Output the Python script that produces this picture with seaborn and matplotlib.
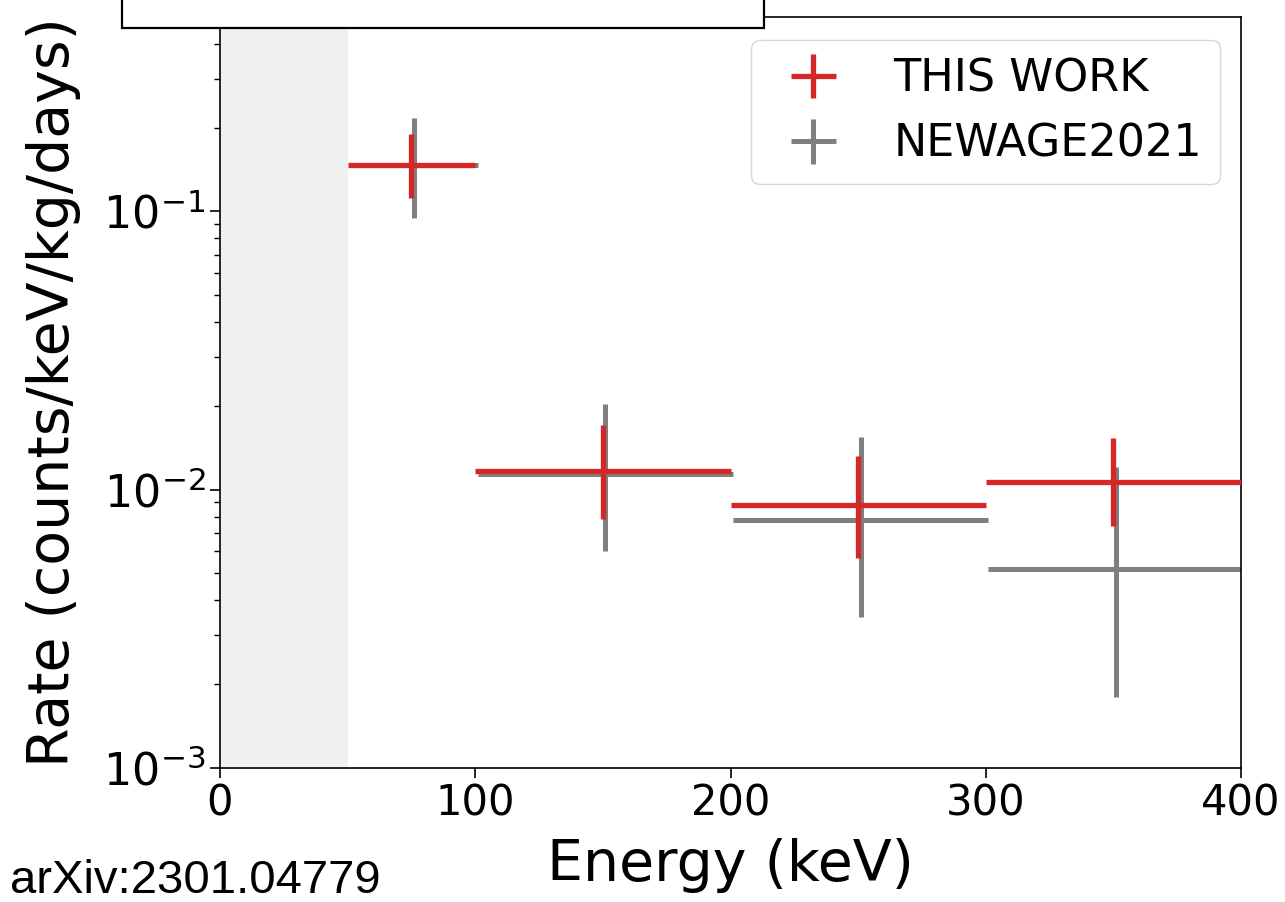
import matplotlib
matplotlib.use("Agg")
import matplotlib.pyplot as plt
from matplotlib.patches import Rectangle
import seaborn as sns
import pandas as pd

# ---- data ----
energy_this = [75, 150, 250, 350]
energy_newage = [76, 151, 251, 351]
energy_halfwidth = [25, 50, 50, 50]
rate_this = [0.147, 0.0117, 0.0088, 0.0107]
err_this_lo = [0.035, 0.00385, 0.0031, 0.0033]
err_this_hi = [0.043, 0.0054, 0.0044, 0.0047]
rate_newage = [0.147, 0.0114, 0.0078, 0.0052]
err_newage_lo = [0.052, 0.0054, 0.0043, 0.0034]
err_newage_hi = [0.070, 0.0090, 0.0077, 0.0069]
labels = ["THIS WORK", "NEWAGE2021"]
xticks = [0, 100, 200, 300, 400]
threshold = [0, 50]

sns.set_style("ticks", rc={"text.color": "black", "axes.labelcolor": "black",
                           "xtick.color": "black", "ytick.color": "black",
                           "axes.edgecolor": "black"})
plt.rcParams["font.family"] = ["DejaVu Sans"]

fig = plt.figure(figsize=(12.85, 9.02), dpi=100)
ax = fig.add_axes([0.1712, 0.1486, 0.7946, 0.8326])

ax.axvspan(threshold[0], threshold[1], color="#f0f0f0", lw=0, zorder=0)

red = "#d62728"
gray = "#7f7f7f"

df_new = pd.DataFrame({"E": energy_newage, "R": rate_newage})
df_this = pd.DataFrame({"E": energy_this, "R": rate_this})

ax.errorbar(energy_newage, rate_newage, xerr=energy_halfwidth,
            yerr=[err_newage_lo, err_newage_hi], fmt="o", ms=4, color=gray,
            ecolor=gray, elinewidth=3.6, capsize=0, label=labels[1], zorder=2)
ax.errorbar(energy_this, rate_this, xerr=energy_halfwidth,
            yerr=[err_this_lo, err_this_hi], fmt="o", ms=4, color=red,
            ecolor=red, elinewidth=3.8, capsize=0, label=labels[0], zorder=3)
sns.scatterplot(data=df_new, x="E", y="R", color=gray, s=12, ax=ax,
                legend=False, zorder=2, linewidth=0)
sns.scatterplot(data=df_this, x="E", y="R", color=red, s=12, ax=ax,
                legend=False, zorder=3, linewidth=0)

ax.set_yscale("log")
ax.set_xlim(0, 400)
ax.set_ylim(1e-3, 0.5)
ax.set_xticks(xticks)
ax.set_xticklabels([str(t) for t in xticks])
ax.tick_params(axis="x", which="major", labelsize=30, length=7, width=1.2)
ax.tick_params(axis="y", which="major", labelsize=32, length=7, width=1.2)
ax.tick_params(axis="both", which="minor", length=4, width=1.0)
for s in ax.spines.values():
    s.set_visible(True)
    s.set_linewidth(1.2)
    s.set_color("black")

ax.set_xlabel("Energy (keV)", fontsize=41, labelpad=10)
ax.set_ylabel("Rate (counts/keV/kg/days)", fontsize=41, labelpad=16)

handles, labs = ax.get_legend_handles_labels()
order = [labs.index(labels[0]), labs.index(labels[1])]
leg = ax.legend([handles[i] for i in order], [labs[i] for i in order],
                loc="upper right", fontsize=32, frameon=True,
                bbox_to_anchor=(1.001, 0.999))
for t in leg.get_texts():
    t.set_color("black")

# partially visible title box at top
fig.add_artist(Rectangle((122 / 1285, 1 - 28 / 902), (764 - 122) / 1285, 0.1,
                         transform=fig.transFigure, facecolor="white",
                         edgecolor="black", lw=1.6, clip_on=False, zorder=10))

fig.text(10 / 1285, 1 - 893 / 902, "arXiv:2301.04779", fontsize=34,
         family=["Liberation Sans", "DejaVu Sans"], ha="left", va="baseline",
         color="black")

fig.savefig("out.png", dpi=100)
